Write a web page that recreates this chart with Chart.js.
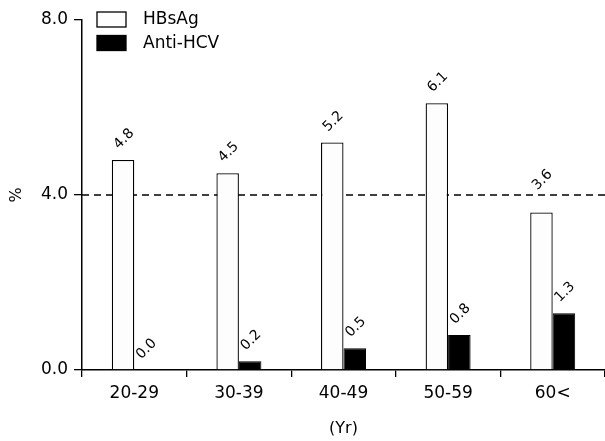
<!DOCTYPE html>
<html>
<head>
<meta charset="utf-8">
<script src="https://cdn.jsdelivr.net/npm/chart.js@4"></script>
<style>
  body { margin: 0; background: #fff; }
  #wrap { width: 605px; height: 441px; }
</style>
</head>
<body>
<div id="wrap"><canvas id="ageChart"></canvas></div>
<script>
const ageGroups = ['20-29', '30-39', '40-49', '50-59', '60<'];
const hbsag = [4.8, 4.5, 5.2, 6.1, 3.6];
const antiHcv = [0.0, 0.2, 0.5, 0.8, 1.3];
const yTicks = [0, 4, 8];
const refLine = 4.0;

const FONT = 'DejaVu Sans';

// dashed reference line at 4.0, behind the bars
const refLinePlugin = {
    id: 'refLine',
    beforeDatasetsDraw(chart) {
        const { ctx, chartArea, scales } = chart;
        const y = scales.y.getPixelForValue(refLine);
        ctx.save();
        ctx.strokeStyle = '#000';
        ctx.lineWidth = 1.3;
        ctx.setLineDash([7, 5]);
        ctx.beginPath();
        ctx.moveTo(chartArea.left, y);
        ctx.lineTo(chartArea.right, y);
        ctx.stroke();
        ctx.restore();
    }
};

// rotated value labels above each bar (pushed above the dashed line if they'd cross it)
const valueLabels = {
    id: 'valueLabels',
    afterDatasetsDraw(chart) {
        const { ctx } = chart;
        const refY = chart.scales.y.getPixelForValue(refLine);
        ctx.save();
        ctx.fillStyle = '#000';
        ctx.font = '14px "' + FONT + '"';
        ctx.textAlign = 'center';
        ctx.textBaseline = 'middle';
        chart.data.datasets.forEach((ds, i) => {
            chart.getDatasetMeta(i).data.forEach((bar, j) => {
                let y = bar.y - 21;
                if (bar.y > refY && y < refY + 12) y = refY - 15;
                ctx.save();
                ctx.translate(bar.x + 1, y);
                ctx.rotate(-Math.PI / 4);
                ctx.fillText(ds.data[j].toFixed(1), 0, 0);
                ctx.restore();
            });
        });
        ctx.restore();
    }
};

// legend drawn in the top-left corner of the plot
const cornerLegend = {
    id: 'cornerLegend',
    afterDraw(chart) {
        const { ctx } = chart;
        ctx.save();
        ctx.font = '17px "' + FONT + '"';
        ctx.textBaseline = 'middle';
        chart.data.datasets.forEach((ds, i) => {
            const top = 12 + i * 23.5;
            ctx.fillStyle = ds.backgroundColor;
            ctx.fillRect(97, top, 29, 15);
            ctx.strokeStyle = '#000';
            ctx.lineWidth = 1.3;
            ctx.strokeRect(97, top, 29, 15);
            ctx.fillStyle = '#000';
            ctx.fillText(ds.label, 143, top + 8);
        });
        ctx.restore();
    }
};

const ctx = document.getElementById('ageChart').getContext('2d');
const ageChart = new Chart(ctx, {
    type: 'bar',
    data: {
        labels: ageGroups,
        datasets: [{
            label: 'HBsAg',
            data: hbsag,
            backgroundColor: '#fdfdfd',
            borderColor: '#000',
            borderWidth: 1.3
        }, {
            label: 'Anti-HCV',
            data: antiHcv,
            backgroundColor: '#000',
            borderColor: '#000',
            borderWidth: 1
        }]
    },
    options: {
        responsive: true,
        maintainAspectRatio: false,
        animation: false,
        layout: { padding: { top: 20, right: 0, left: 0, bottom: 0 } },
        categoryPercentage: 0.43,
        barPercentage: 1.0,
        plugins: {
            legend: { display: false },
            tooltip: { enabled: false }
        },
        scales: {
            x: {
                grid: { offset: true, drawOnChartArea: false, tickLength: 7, color: '#000', lineWidth: 1.3 },
                border: { color: '#000', width: 1.5 },
                ticks: { color: '#000', font: { family: FONT, size: 17 }, padding: 6, maxRotation: 0 },
                title: { display: true, text: '(Yr)', color: '#000', font: { family: FONT, size: 16 }, padding: { top: 0, bottom: 3 } },
                afterFit(scale) { scale.height = 71; }
            },
            y: {
                min: 0,
                max: 8,
                afterBuildTicks(scale) { scale.ticks = yTicks.map(v => ({ value: v })); },
                grid: { drawOnChartArea: false, tickLength: 8, color: '#000', lineWidth: 1.3 },
                border: { color: '#000', width: 1.5 },
                ticks: { color: '#000', font: { family: FONT, size: 17 }, padding: 6, callback: v => v.toFixed(1) },
                title: { display: true, text: '%', color: '#000', font: { family: FONT, size: 16 }, padding: { top: 7, bottom: 0 } },
                afterFit(scale) { scale.width = 82; }
            }
        }
    },
    plugins: [refLinePlugin, valueLabels, cornerLegend]
});
</script>
</body>
</html>
